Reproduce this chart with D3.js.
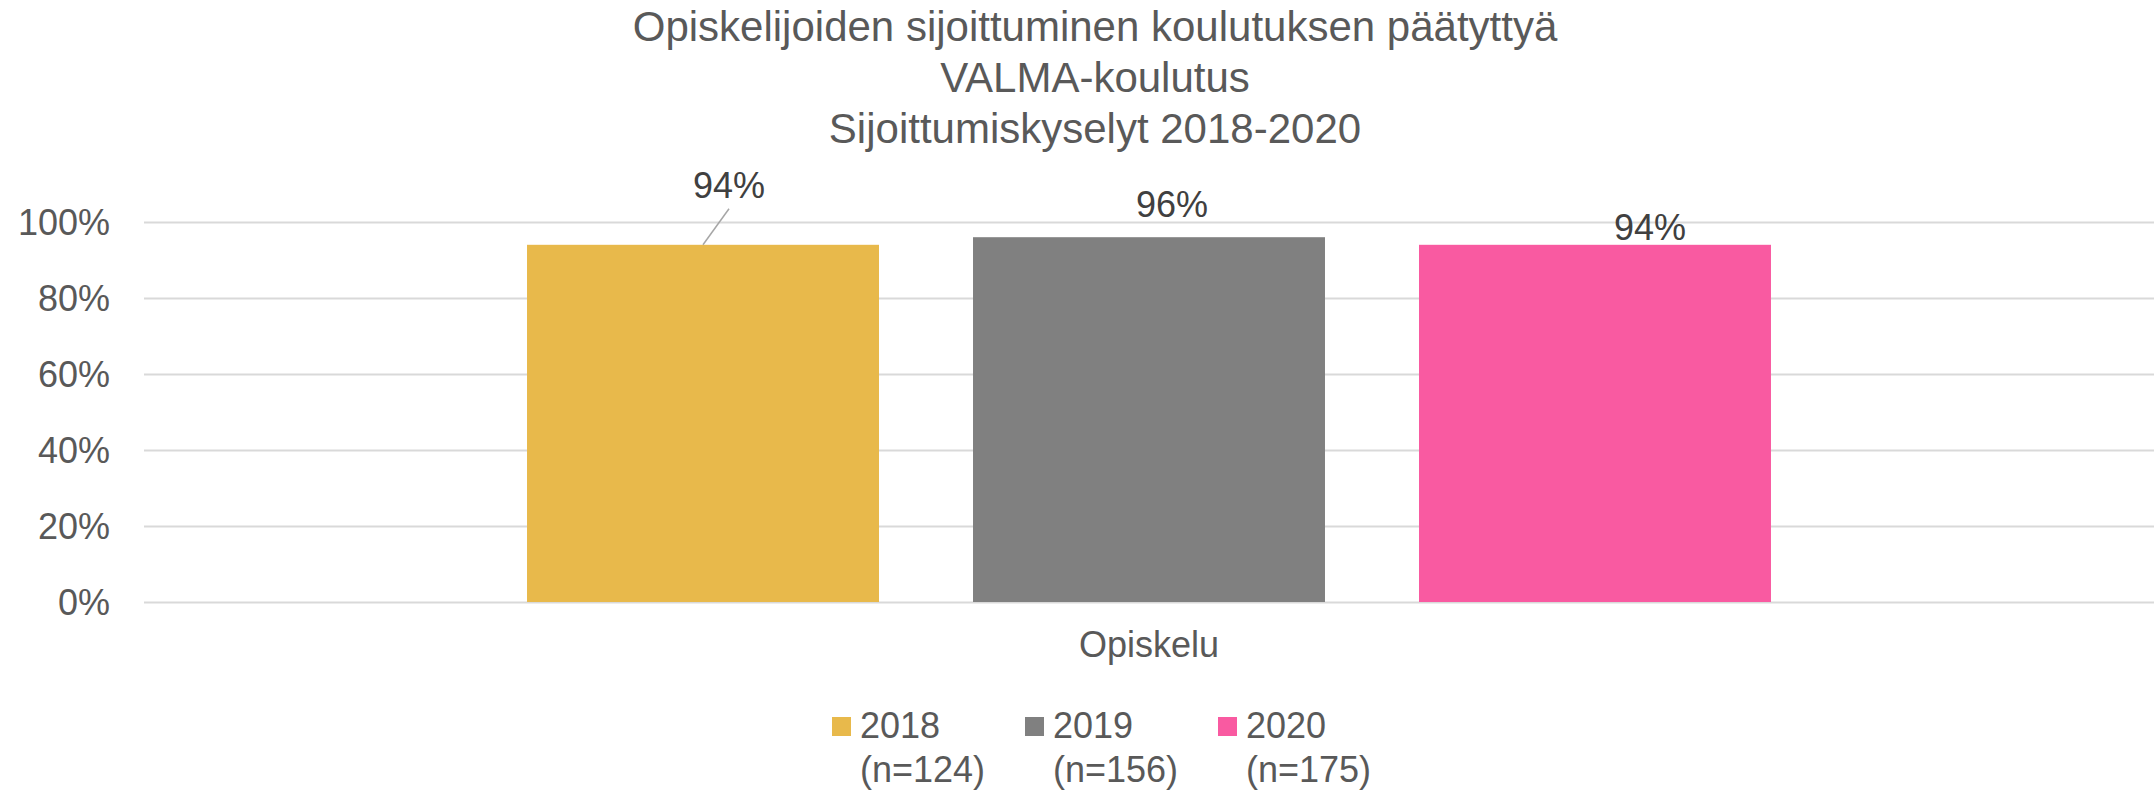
<!DOCTYPE html>
<html>
<head>
<meta charset="utf-8">
<script src="https://cdn.jsdelivr.net/npm/d3@7"></script>
<style>
  body { margin: 0; background: #fff; }
  text { font-family: "Liberation Sans", Arial, sans-serif; }
</style>
</head>
<body>
<svg width="2154" height="791"></svg>
<script>
const titleLines = ["Opiskelijoiden sijoittuminen koulutuksen päätyttyä", "VALMA-koulutus", "Sijoittumiskyselyt 2018-2020"];
const categories = ["Opiskelu"];
const years = ["2018", "2019", "2020"];
const sampleSizes = ["(n=124)", "(n=156)", "(n=175)"];
const values = [0.94, 0.96, 0.94];
const yTicks = [0, 0.2, 0.4, 0.6, 0.8, 1];

const colors = ["#E8B94B", "#808080", "#F95AA1"];
// label nudges (dx, dy) relative to bar top, as placed in the original
const labelNudge = [[26, -47], [23, -20], [55, -5]];

const svg = d3.select("svg"),
  width = +svg.attr("width"),
  height = +svg.attr("height");

const margin = {left: 144, right: 0, top: 222, bottom: 189};

const x0 = d3.scaleBand()
  .domain(categories)
  .range([margin.left, width - margin.right])
  .padding(0);

const x1 = d3.scaleBand()
  .domain(years)
  .range([0, x0.bandwidth()])
  .paddingInner(0.2108)
  .paddingOuter(0.8588);

const y = d3.scaleLinear()
  .domain([0, 1])
  .range([height - margin.bottom, margin.top]);

const color = d3.scaleOrdinal(years, colors);

// title
svg.append("g")
  .selectAll("text")
  .data(titleLines)
  .join("text")
  .attr("x", 1095)
  .attr("y", (d, i) => 41 + i * 51)
  .attr("text-anchor", "middle")
  .attr("font-size", 42)
  .attr("fill", "#595959")
  .text(d => d);

// gridlines + y labels
const yAxis = d3.axisLeft(y)
  .tickValues(yTicks)
  .tickFormat(d3.format(".0%"))
  .tickSize(-(width - margin.left - margin.right))
  .tickPadding(34);

svg.append("g")
  .attr("transform", `translate(${margin.left},0)`)
  .call(yAxis)
  .call(g => g.select(".domain").remove())
  .call(g => g.selectAll(".tick line")
    .attr("stroke", "#D9D9D9")
    .attr("stroke-width", 2))
  .call(g => g.selectAll(".tick text")
    .attr("font-size", 36)
    .attr("font-family", "Liberation Sans, Arial, sans-serif")
    .attr("fill", "#595959")
    .attr("dy", "0.35em"));

// bars
const rows = years.map((yr, i) => ({year: yr, value: values[i], cat: categories[0], i}));

const group = svg.append("g")
  .attr("transform", `translate(${x0(categories[0])},0)`);

group.selectAll("rect")
  .data(rows)
  .join("rect")
  .attr("x", d => x1(d.year))
  .attr("y", d => y(d.value))
  .attr("width", x1.bandwidth())
  .attr("height", d => y(0) - y(d.value))
  .attr("fill", d => color(d.year));

// leader line for label far from its bar
group.selectAll("line.leader")
  .data(rows.filter(d => Math.abs(labelNudge[d.i][1]) > 30))
  .join("line")
  .attr("class", "leader")
  .attr("x1", d => x1(d.year) + x1.bandwidth() / 2 + labelNudge[d.i][0])
  .attr("y1", d => y(d.value) + labelNudge[d.i][1] + 11)
  .attr("x2", d => x1(d.year) + x1.bandwidth() / 2)
  .attr("y2", d => y(d.value))
  .attr("stroke", "#A6A6A6")
  .attr("stroke-width", 1.5);

// data labels
group.selectAll("text.val")
  .data(rows)
  .join("text")
  .attr("class", "val")
  .attr("x", d => x1(d.year) + x1.bandwidth() / 2 + labelNudge[d.i][0])
  .attr("y", d => y(d.value) + labelNudge[d.i][1])
  .attr("text-anchor", "middle")
  .attr("font-size", 36)
  .attr("fill", "#404040")
  .text(d => d3.format(".0%")(d.value));

// category label
svg.append("g")
  .selectAll("text")
  .data(categories)
  .join("text")
  .attr("x", d => x0(d) + x0.bandwidth() / 2)
  .attr("y", 657)
  .attr("text-anchor", "middle")
  .attr("font-size", 36)
  .attr("fill", "#595959")
  .text(d => d);

// legend
const legend = svg.append("g")
  .selectAll("g")
  .data(years)
  .join("g")
  .attr("transform", (d, i) => `translate(${832 + i * 193},717)`);

legend.append("rect")
  .attr("width", 19)
  .attr("height", 19)
  .attr("fill", d => color(d));

const lt = legend.append("text")
  .attr("x", 28)
  .attr("y", 21)
  .attr("font-size", 36)
  .attr("fill", "#595959");

lt.append("tspan").text(d => d);
lt.append("tspan")
  .attr("x", 28)
  .attr("dy", 44)
  .text((d, i) => sampleSizes[i]);
</script>
</body>
</html>
